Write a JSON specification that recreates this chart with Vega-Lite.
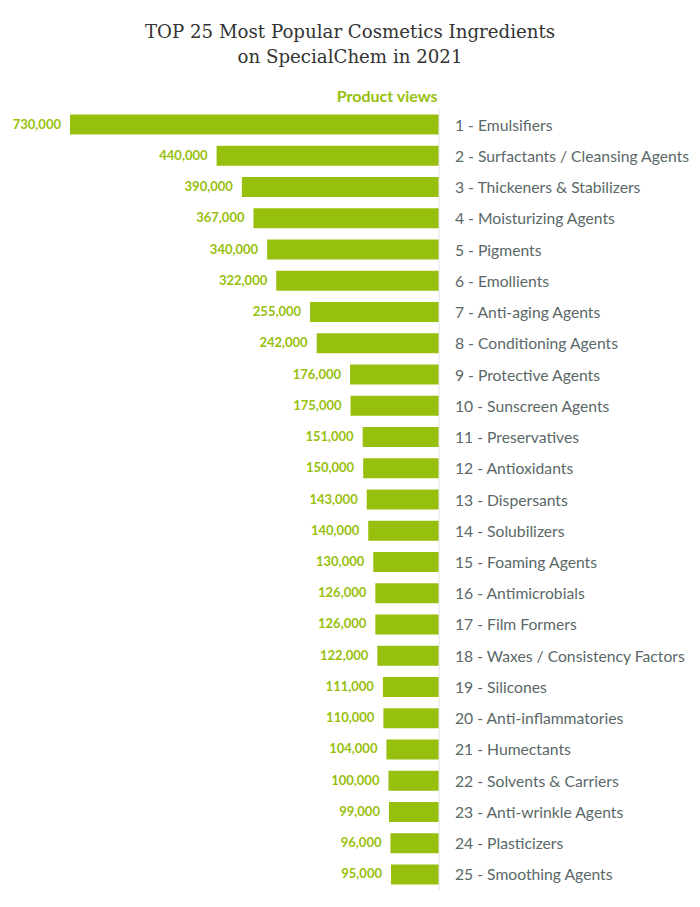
{
  "$schema": "https://vega.github.io/schema/vega-lite/v6.json",
  "width": 700,
  "height": 781,
  "autosize": {"type": "none"},
  "padding": {"top": 109, "left": 0, "right": 0, "bottom": 17},
  "background": "white",
  "title": {
    "text": ["TOP 25 Most Popular Cosmetics Ingredients", "on SpecialChem in 2021"],
    "font": "DejaVu Serif",
    "fontSize": 18.2,
    "fontWeight": "normal",
    "color": "#333333",
    "anchor": "middle",
    "frame": "group",
    "lineHeight": 25,
    "offset": 21
  },
  "config": {"view": {"stroke": null}},
  "data": {
    "values": [
      {"rank": 1, "label": "1 - Emulsifiers", "views": 730000},
      {"rank": 2, "label": "2 - Surfactants / Cleansing Agents", "views": 440000},
      {"rank": 3, "label": "3 - Thickeners & Stabilizers", "views": 390000},
      {"rank": 4, "label": "4 - Moisturizing Agents", "views": 367000},
      {"rank": 5, "label": "5 - Pigments", "views": 340000},
      {"rank": 6, "label": "6 - Emollients", "views": 322000},
      {"rank": 7, "label": "7 - Anti-aging Agents", "views": 255000},
      {"rank": 8, "label": "8 - Conditioning Agents", "views": 242000},
      {"rank": 9, "label": "9 - Protective Agents", "views": 176000},
      {"rank": 10, "label": "10 - Sunscreen Agents", "views": 175000},
      {"rank": 11, "label": "11 - Preservatives", "views": 151000},
      {"rank": 12, "label": "12 - Antioxidants", "views": 150000},
      {"rank": 13, "label": "13 - Dispersants", "views": 143000},
      {"rank": 14, "label": "14 - Solubilizers", "views": 140000},
      {"rank": 15, "label": "15 - Foaming Agents", "views": 130000},
      {"rank": 16, "label": "16 - Antimicrobials", "views": 126000},
      {"rank": 17, "label": "17 - Film Formers", "views": 126000},
      {"rank": 18, "label": "18 - Waxes / Consistency Factors", "views": 122000},
      {"rank": 19, "label": "19 - Silicones", "views": 111000},
      {"rank": 20, "label": "20 - Anti-inflammatories", "views": 110000},
      {"rank": 21, "label": "21 - Humectants", "views": 104000},
      {"rank": 22, "label": "22 - Solvents & Carriers", "views": 100000},
      {"rank": 23, "label": "23 - Anti-wrinkle Agents", "views": 99000},
      {"rank": 24, "label": "24 - Plasticizers", "views": 96000},
      {"rank": 25, "label": "25 - Smoothing Agents", "views": 95000}
    ]
  },
  "encoding": {
    "y": {
      "field": "rank",
      "type": "ordinal",
      "sort": "ascending",
      "scale": {"paddingInner": 0.36, "paddingOuter": 0.18},
      "axis": null
    }
  },
  "layer": [
    {
      "mark": {"type": "bar", "color": "#97bf0d"},
      "encoding": {
        "x": {
          "field": "views",
          "type": "quantitative",
          "scale": {"domain": [0, 730000], "range": [439, 70], "nice": false},
          "axis": {
            "orient": "top",
            "labels": false,
            "ticks": false,
            "domain": false,
            "grid": false,
            "title": "Product views",
            "titleFont": "Lato",
            "titleFontSize": 16,
            "titleFontWeight": "bold",
            "titleColor": "#97bf0d",
            "titleX": 437,
            "titleY": -5,
            "titleAlign": "right",
            "titleBaseline": "bottom"
          }
        }
      }
    },
    {
      "mark": {"type": "text", "align": "right", "baseline": "middle", "dx": -9, "font": "Lato", "fontSize": 13, "fontWeight": "bold", "color": "#97bf0d"},
      "encoding": {
        "x": {"field": "views", "type": "quantitative"},
        "text": {"field": "views", "type": "quantitative", "format": ","}
      }
    },
    {
      "mark": {"type": "text", "align": "left", "baseline": "middle", "dx": 16, "dy": 1, "font": "Lato", "fontSize": 15.7, "color": "#5a6868"},
      "encoding": {
        "x": {"datum": 0, "type": "quantitative"},
        "text": {"field": "label", "type": "nominal"}
      }
    },
    {
      "data": {"values": [{"v": 0}]},
      "mark": {"type": "rule", "color": "#e2e2e2", "strokeWidth": 1},
      "encoding": {
        "x": {"field": "v", "type": "quantitative"},
        "y": null
      }
    }
  ]
}
